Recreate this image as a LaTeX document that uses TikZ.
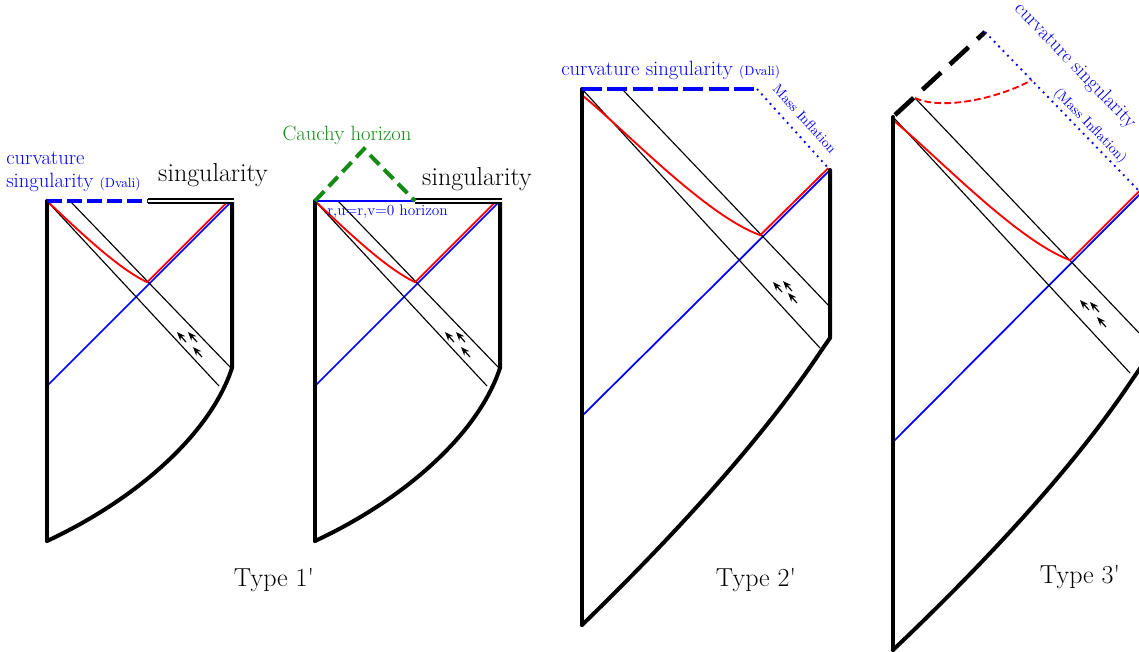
\documentclass[tikz,border=0pt]{standalone}
\usetikzlibrary{arrows.meta}
\definecolor{cgreen}{RGB}{20,140,20}
\begin{document}
\begin{tikzpicture}[x=0.75pt,y=-0.75pt,
  frame/.style={line width=3pt, line cap=round},
  thinl/.style={line width=0.85pt},
  redl/.style={red, line width=1.4pt},
  bluel/.style={blue, line width=1.3pt},
  sing/.style={double, double distance=1.5pt, line width=1.4pt},
  bdash/.style={blue, line width=2.3pt, dash pattern=on 11pt off 4pt},
  bdot/.style={blue, line width=1.4pt, dash pattern=on 1.4pt off 3.4pt},
  arr/.style={-{Stealth[length=6.5pt,width=5pt]}, line width=0.9pt},
  big/.style={inner sep=0pt, font=\fontsize{19.5}{22}\selectfont},
  mid/.style={inner sep=0pt, font=\fontsize{15.5}{18}\selectfont},
  small/.style={inner sep=0pt, font=\fontsize{10.5}{12}\selectfont}
]
\useasboundingbox (0,0) rectangle (1139,652);
\clip (0,0) rectangle (1139,652);

% ================= Diagram 1 =================
\coordinate (a1TL) at (47,201);
\coordinate (a1TM) at (148,201);
\coordinate (a1TR) at (232,201);
\coordinate (a1R) at (232,368);
\coordinate (a1B) at (47,541);
\coordinate (a1BL) at (47,386);
\coordinate (a1X) at (149,284);
\draw[bluel] (a1BL) -- (a1TR);
\draw[thinl] (a1TL) -- (219,386);
\draw[thinl] (70,201) -- (231,368);
\draw[redl] (a1TL) .. controls (77,229) and (117,268) .. ([shift={(-1.8,-1.8)}]a1X) -- ([shift={(-1.8,-1.8)}]a1TR);
\draw[frame] (a1TL) -- (a1B);
\draw[frame] (a1B) .. controls (135,500) and (210,435) .. (a1R) -- (a1TR);
\draw[bdash] (a1TL) -- (a1TM);
\draw[sing] (a1TM) -- (233.5,201);
\foreach \p in {(177,332),(188,332),(193,347)} {
  \draw[arr] \p ++(9,10) -- \p;
}
\node[mid, anchor=west, text=blue] (c1a) at (6,158) {curvature};
\node[mid, anchor=west, text=blue] (c1b) at (6,182) {singularity {\fontsize{10}{12}\selectfont(Dvali)}};
\node[big] (s1) at (213,175) {singularity};

% ================= Diagram 2 =================
\coordinate (a2TL) at (315,201);
\coordinate (a2TM) at (415,201);
\coordinate (a2TR) at (500,201);
\coordinate (a2R) at (500,368);
\coordinate (a2B) at (315,541);
\coordinate (a2BL) at (315,386);
\coordinate (a2X) at (417,284);
\coordinate (a2A) at (364,149);
\draw[bluel] (a2BL) -- (a2TR);
\draw[thinl] (a2TL) -- (487,386);
\draw[thinl] (338,201) -- (499,368);
\draw[redl] (a2TL) .. controls (345,229) and (385,268) .. ([shift={(-1.8,-1.8)}]a2X) -- ([shift={(-1.8,-1.8)}]a2TR);
\draw[frame] (a2TL) -- (a2B);
\draw[frame] (a2B) .. controls (403,500) and (478,435) .. (a2R) -- (a2TR);
\draw[blue, line width=1.6pt] (a2TL) -- (a2TM);
\draw[sing] (a2TM) -- (501.5,201);
\draw[cgreen, line width=3pt, dash pattern=on 10pt off 5pt] (a2TL) -- (a2A) -- (a2TM);
\foreach \p in {(445,332),(456,332),(461,347)} {
  \draw[arr] \p ++(9,10) -- \p;
}
\node[mid, text=cgreen] (ch) at (347,135) {Cauchy horizon};
\node[big] (s2) at (477,179) {singularity};
\node[small, anchor=west, text=blue, font=\fontsize{11.5}{13}\selectfont] (hz) at (327,212) {r,u=r,v=0 horizon};
\node[big] (t1) at (274,580) {Type 1\textquotesingle};

% ================= Diagram 3 =================
\coordinate (a3TL) at (582,89);
\coordinate (a3TM) at (757,89);
\coordinate (a3TR) at (830,170);
\coordinate (a3R) at (830,338);
\coordinate (a3K) at (821,351);
\coordinate (a3B) at (582,625);
\coordinate (a3BL) at (582,416);
\coordinate (a3X) at (762,237);
\draw[bluel] (a3BL) -- (a3TR);
\draw[thinl] (a3TL) -- (820,348);
\draw[thinl] (622,89) -- (830,307);
\draw[redl] (583,96) .. controls (625,130) and (705,215) .. ([shift={(-1.8,-1.8)}]a3X) -- ([shift={(-1.8,-1.8)}]a3TR);
\draw[frame] (a3TL) -- (a3B);
\draw[frame, line join=round] (a3B) .. controls (680,530) and (765,435) .. (a3K) -- (a3R) -- (a3TR);
\draw[bdash, dash pattern=on 15pt off 4pt] (a3TL) -- (a3TM);
\draw[bdot] (a3TM) -- (a3TR);
\foreach \p in {(773,282),(783,281),(788,293)} {
  \draw[arr] \p ++(9,10) -- \p;
}
\node[mid, anchor=west, text=blue] (c3) at (561,70) {curvature singularity {\fontsize{10}{12}\selectfont(Dvali)}};
\node[small, text=blue, rotate=-48] (mi3) at (805,119) {Mass Inflation};
\node[big] (t2) at (756,580) {Type 2\textquotesingle};

% ================= Diagram 4 =================
\coordinate (a4TL) at (893,117);
\coordinate (a4TA) at (985,32);
\coordinate (a4TR) at (1141,193);
\coordinate (a4R) at (1141,367);
\coordinate (a4K) at (1132,380);
\coordinate (a4B) at (893,650);
\coordinate (a4BL) at (893,442);
\coordinate (a4X) at (1072,262);
\coordinate (a4S) at (915,98);
\draw[bluel] (a4BL) -- (a4TR);
\draw[thinl] (a4TL) -- (1130,373);
\draw[thinl] (a4S) -- (1141,335);
\draw[redl] (894,121) .. controls (936,155) and (1016,240) .. ([shift={(-1.8,-1.8)}]a4X) -- ([shift={(-1.8,-1.8)}]a4TR);
\draw[red, line width=1.4pt, dash pattern=on 5pt off 2.5pt] (a4S) .. controls (940,110) and (995,100) .. (1032,80);
\draw[frame] (a4TL) -- (a4B);
\draw[frame, line join=round] (a4B) .. controls (991,557) and (1076,464) .. (a4K) -- (a4R) -- (a4TR);
\draw[line width=3.5pt, dash pattern=on 19pt off 9pt] (895,115) -- (a4TA);
\draw[bdot] (a4TA) -- (a4TR);
\foreach \p in {(1080,300),(1090,302),(1097,317)} {
  \draw[arr] \p ++(9,10) -- \p;
}
\node[mid, text=blue, rotate=-46, anchor=west, font=\fontsize{15}{18}\selectfont] (c4) at (1017,6) {curvature singularity};
\node[small, text=blue, rotate=-46] (mi4) at (1090,126) {(Mass Inflation)};
\node[big] (t3) at (1080,577) {Type 3\textquotesingle};
\end{tikzpicture}
\end{document}
